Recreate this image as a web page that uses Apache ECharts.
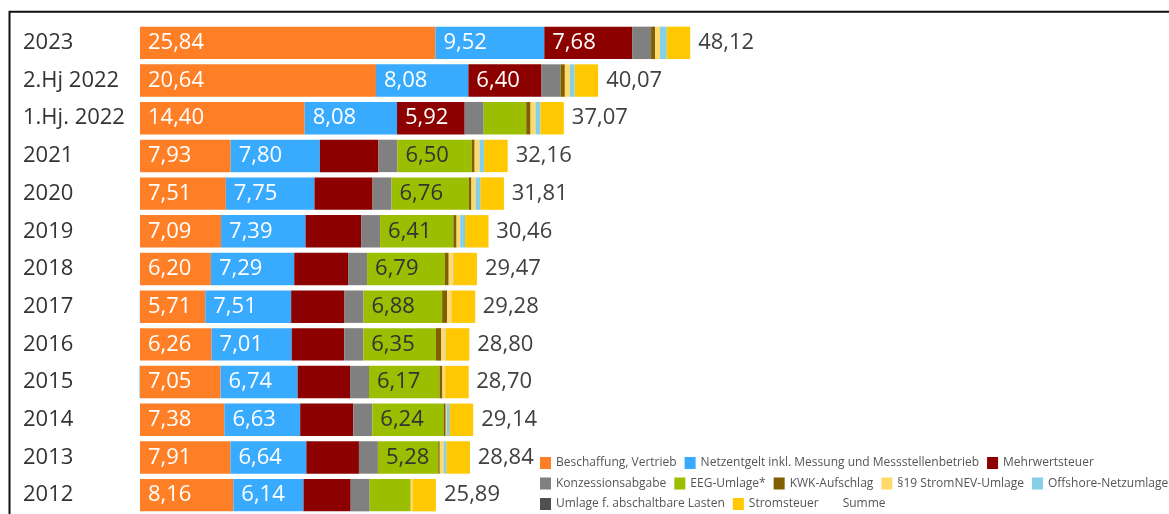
<!DOCTYPE html>
<html>
<head>
<meta charset="utf-8">
<title>Strompreis Haushalte</title>
<script src="https://cdn.jsdelivr.net/npm/echarts@6/dist/echarts.min.js"></script>
<style>
  html, body { margin: 0; padding: 0; background: #fff; }
  #chart { width: 1169px; height: 514px; }
</style>
</head>
<body>
<div id="chart"></div>
<script>
// ct/kWh, von oben nach unten
const categories = ['2023', '2.Hj 2022', '1.Hj. 2022', '2021', '2020', '2019', '2018', '2017', '2016', '2015', '2014', '2013', '2012']
const beschaffung = [25.84, 20.64, 14.40, 7.93, 7.51, 7.09, 6.20, 5.71, 6.26, 7.05, 7.38, 7.91, 8.16]
const netzentgelt = [9.52, 8.08, 8.08, 7.80, 7.75, 7.39, 7.29, 7.51, 7.01, 6.74, 6.63, 6.64, 6.14]
const mehrwertsteuer = [7.68, 6.40, 5.92, 5.13, 5.08, 4.86, 4.71, 4.67, 4.60, 4.58, 4.65, 4.60, 4.13]
const konzession = [1.66, 1.66, 1.66, 1.66, 1.66, 1.66, 1.66, 1.66, 1.66, 1.66, 1.66, 1.66, 1.66]
const eeg = [0, 0, 3.72, 6.50, 6.76, 6.41, 6.79, 6.88, 6.35, 6.17, 6.24, 5.28, 3.59]
const kwk = [0.36, 0.38, 0.38, 0.25, 0.23, 0.28, 0.35, 0.44, 0.45, 0.25, 0.18, 0.13, 0.00]
const stromNEV = [0.42, 0.44, 0.44, 0.43, 0.36, 0.31, 0.37, 0.39, 0.38, 0.24, 0.09, 0.33, 0.15]
const offshore = [0.59, 0.42, 0.42, 0.40, 0.42, 0.42, 0.04, -0.03, 0.04, -0.05, 0.25, 0.25, 0.00]
const abschaltbar = [0, 0, 0, 0.01, 0.01, 0.01, 0.01, 0.01, 0, 0.01, 0.01, 0.01, 0]
const stromsteuer = [2.05, 2.05, 2.05, 2.05, 2.05, 2.05, 2.05, 2.05, 2.05, 2.05, 2.05, 2.05, 2.05]
const summe = [48.12, 40.07, 37.07, 32.16, 31.81, 30.46, 29.47, 29.28, 28.80, 28.70, 29.14, 28.84, 25.89]

const font = 'Open Sans'
const fmt = v => v.toFixed(2).replace('.', ',')

function part(name, data, color, labelColor) {
  const s = {
    name,
    type: 'bar',
    stack: 'preis',
    barCategoryGap: '14%',
    data,
    itemStyle: { color },
    label: { show: false }
  }
  if (labelColor) {
    s.label = {
      show: true,
      position: 'insideLeft',
      distance: 8,
      color: labelColor,
      fontFamily: font,
      fontSize: 22,
      formatter: p => (p.value >= 5.2 ? fmt(p.value) : '')
    }
  }
  return s
}

const series = [
  part('Beschaffung, Vertrieb', beschaffung, '#ff7f27', '#fff'),
  part('Netzentgelt inkl. Messung und Messstellenbetrieb', netzentgelt, '#38abff', '#fff'),
  part('Mehrwertsteuer', mehrwertsteuer, '#8c0000', '#fff'),
  part('Konzessionsabgabe', konzession, '#808080'),
  part('EEG-Umlage*', eeg, '#9bbf00', '#333'),
  part('KWK-Aufschlag', kwk, '#7f5f00'),
  part('§19 StromNEV-Umlage', stromNEV, '#ffda6a'),
  Object.assign(part('Offshore-Netzumlage', offshore, '#86cfe8'), { clip: false }),
  part('Umlage f. abschaltbare Lasten', abschaltbar, '#505050'),
  part('Stromsteuer', stromsteuer, '#ffc800'),
  {
    name: 'Summe',
    type: 'bar',
    barGap: '-100%',
    barCategoryGap: '14%',
    data: summe,
    itemStyle: { color: 'rgba(0,0,0,0)' },
    label: {
      show: true,
      position: 'right',
      distance: 8,
      color: '#404040',
      fontFamily: font,
      fontSize: 22,
      formatter: p => fmt(p.value)
    },
    z: 1
  }
]

function legendRow(names, top) {
  return {
    data: names,
    left: 540,
    top,
    padding: 0,
    itemGap: 8,
    itemWidth: 11,
    itemHeight: 12,
    icon: 'rect',
    selectedMode: false,
    textStyle: { fontFamily: font, fontSize: 12, color: '#555' }
  }
}

const chart = echarts.init(document.getElementById('chart'))
chart.setOption({
  animation: false,
  textStyle: { fontFamily: font },
  grid: { left: 140, top: 24, width: 1030, height: 491 },
  xAxis: { type: 'value', min: 0, max: 90, show: false },
  yAxis: {
    type: 'category',
    data: categories,
    inverse: true,
    axisLine: { show: false },
    axisTick: { show: false },
    axisLabel: { align: 'left', margin: 117, color: '#333', fontFamily: font, fontSize: 22 }
  },
  legend: [
    legendRow(['Beschaffung, Vertrieb', 'Netzentgelt inkl. Messung und Messstellenbetrieb', 'Mehrwertsteuer'], 457),
    legendRow(['Konzessionsabgabe', 'EEG-Umlage*', 'KWK-Aufschlag', '§19 StromNEV-Umlage', 'Offshore-Netzumlage'], 477.5),
    legendRow(['Umlage f. abschaltbare Lasten', 'Stromsteuer', 'Summe'], 498)
  ],
  graphic: [{
    type: 'rect',
    shape: { x: 9.5, y: 11.8, width: 1200, height: 600 },
    style: { fill: 'none', stroke: '#111', lineWidth: 2 },
    silent: true
  }],
  series
})
</script>
</body>
</html>
